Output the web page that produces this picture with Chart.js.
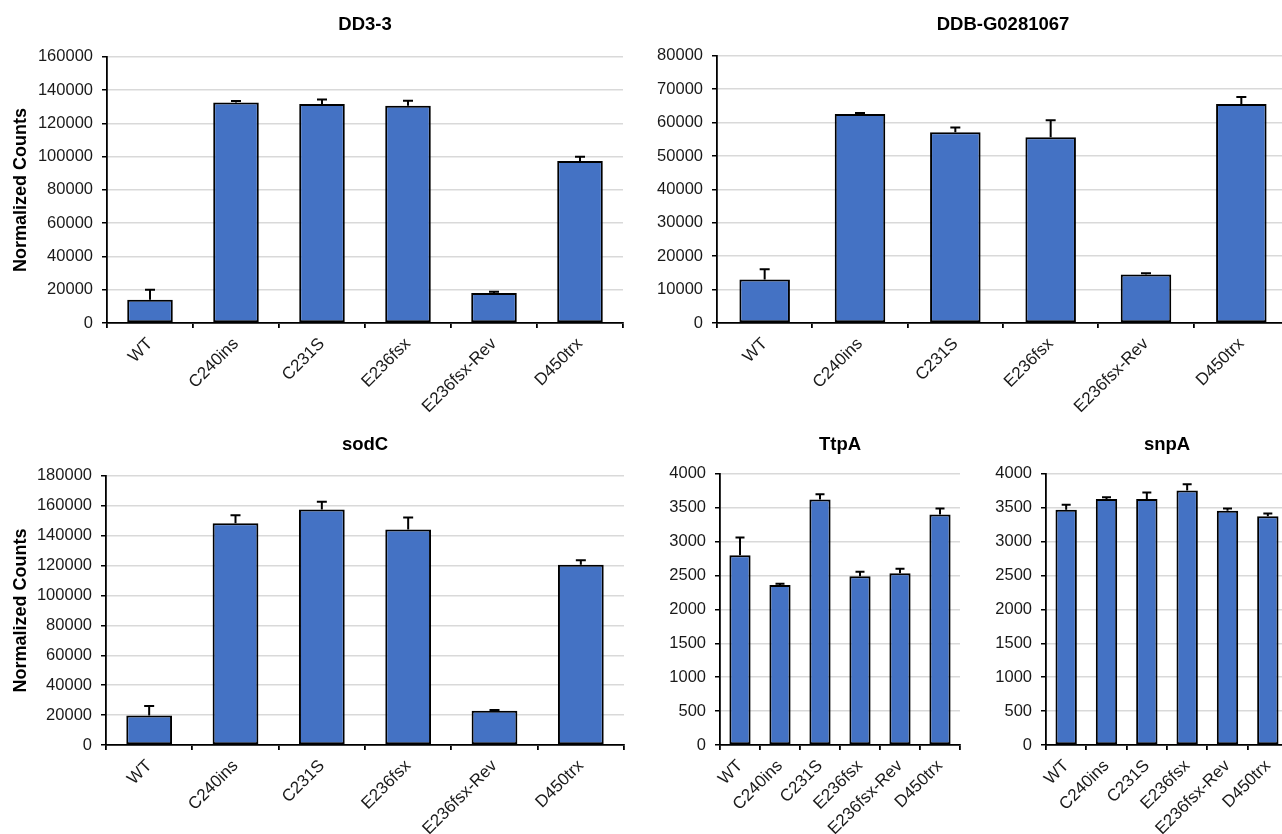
<!DOCTYPE html>
<html>
<head>
<meta charset="utf-8">
<title>Normalized Counts</title>
<script src="https://cdn.jsdelivr.net/npm/chart.js@4/dist/chart.umd.min.js"></script>
<style>
  html, body { margin: 0; padding: 0; background: #fff; overflow: hidden; }
  #wrap { position: relative; width: 1282px; height: 834px; overflow: hidden; }
  #wrap canvas { position: absolute; }
</style>
</head>
<body>
<div id="wrap">
  <canvas id="c1" width="640" height="420" style="left:0;top:0"></canvas>
  <canvas id="c2" width="652" height="420" style="left:640px;top:0"></canvas>
  <canvas id="c3" width="640" height="414" style="left:0;top:420px"></canvas>
  <canvas id="c4" width="330" height="414" style="left:640px;top:420px"></canvas>
  <canvas id="c5" width="322" height="414" style="left:970px;top:420px"></canvas>
</div>
<script>
// Strains shared by every panel
const strains = ['WT', 'C240ins', 'C231S', 'E236fsx', 'E236fsx-Rev', 'D450trx'];

// Mean normalized counts and upper error (SD) for each gene
const dd33Means   = [14000, 132600, 131600, 130600, 18000, 97400];
const dd33Err     = [6000, 800, 2800, 3000, 800, 2600];

const ddbMeans    = [13000, 62600, 57100, 55600, 14500, 65600];
const ddbErr      = [3100, 300, 1400, 5100, 400, 2100];

const sodCMeans   = [19800, 148300, 157400, 144100, 22900, 120500];
const sodCErr     = [6200, 5400, 5200, 8000, 500, 3100];

const ttpAMeans   = [2800, 2360, 3620, 2490, 2535, 3400];
const ttpAErr     = [260, 20, 80, 65, 65, 90];

const snpAMeans   = [3470, 3630, 3630, 3755, 3455, 3375];
const snpAErr     = [75, 25, 95, 90, 35, 40];

// Axis ranges (max, step)
const dd33Axis = [160000, 20000];
const ddbAxis  = [80000, 10000];
const sodCAxis = [180000, 20000];
const smallAxis = [4000, 500];

const FONT = 'Arial, "Liberation Sans", Helvetica, sans-serif';
const BAR_BLUE = '#4472C4';
const GRID_GREY = '#d9d9d9';

// Upward error bars with a cap, drawn from the bar's own scale
const errorBars = {
  id: 'errorBars',
  afterDatasetsDraw(chart, args, opts) {
    const errs = opts.values;
    if (!errs) return;
    const ctx = chart.ctx;
    const yScale = chart.scales.y;
    const meta = chart.getDatasetMeta(0);
    const values = chart.data.datasets[0].data;
    ctx.save();
    ctx.strokeStyle = '#000';
    ctx.lineWidth = 2;
    meta.data.forEach((bar, i) => {
      const x = bar.x;
      const yTop = yScale.getPixelForValue(values[i]);
      const yErr = yScale.getPixelForValue(values[i] + errs[i]);
      ctx.beginPath();
      ctx.moveTo(x, yTop);
      ctx.lineTo(x, yErr);
      ctx.moveTo(x - opts.cap, yErr);
      ctx.lineTo(x + opts.cap, yErr);
      ctx.stroke();
    });
    ctx.restore();
  }
};

function makeChart(id, cfg) {
  const yTitle = cfg.yTitle
    ? { display: true, text: cfg.yTitle, color: '#000',
        font: { family: FONT, size: 18, weight: 'bold' }, padding: { top: cfg.yTitlePad, bottom: 0 } }
    : { display: false };
  return new Chart(document.getElementById(id), {
    type: 'bar',
    data: {
      labels: strains,
      datasets: [{
        data: cfg.means,
        backgroundColor: BAR_BLUE,
        borderColor: '#000',
        borderWidth: 2,
        borderSkipped: false,
        categoryPercentage: 1,
        barPercentage: 0.53
      }]
    },
    options: {
      responsive: false,
      animation: false,
      layout: { padding: { left: 0, right: cfg.padRight, top: 0, bottom: 0 } },
      plugins: {
        legend: { display: false },
        tooltip: { enabled: false },
        title: {
          display: true,
          text: cfg.title,
          fullSize: false,
          color: '#000',
          font: { family: FONT, size: 18.5, weight: 'bold' },
          padding: { top: 13.5, bottom: cfg.titleGap - 1.5 }
        },
        errorBars: { values: cfg.err, cap: cfg.cap }
      },
      scales: {
        x: {
          grid: { display: true, drawOnChartArea: false, drawTicks: true, tickLength: 5,
                  color: '#000', lineWidth: 1.8, offset: true },
          border: { display: true, color: '#000', width: 1.8 },
          ticks: { autoSkip: false, maxRotation: 45, minRotation: 45, padding: 6,
                   color: '#1a1a1a', font: { family: FONT, size: 17 } },
          afterFit(scale) { scale.height = cfg.xHeight; }
        },
        y: {
          min: 0,
          max: cfg.axis[0],
          grid: { color: GRID_GREY, lineWidth: 1.5, tickLength: 5, tickColor: '#000' },
          border: { display: true, color: '#000', width: 1.8 },
          ticks: { stepSize: cfg.axis[1], padding: 9, color: '#1a1a1a',
                   font: { family: FONT, size: 16.5 },
                   callback: v => String(v) },
          title: yTitle,
          afterFit(scale) { scale.width = cfg.yWidth; }
        }
      }
    },
    plugins: [errorBars]
  });
}

makeChart('c1', { title: 'DD3-3', means: dd33Means, err: dd33Err, axis: dd33Axis,
  yTitle: 'Normalized Counts', yTitlePad: 10, yWidth: 107, padRight: 17,
  titleGap: 22.6, xHeight: 97, cap: 5 });

makeChart('c2', { title: 'DDB-G0281067', means: ddbMeans, err: ddbErr, axis: ddbAxis,
  yWidth: 77, padRight: 3, titleGap: 21.6, xHeight: 97, cap: 5 });

makeChart('c3', { title: 'sodC', means: sodCMeans, err: sodCErr, axis: sodCAxis,
  yTitle: 'Normalized Counts', yTitlePad: 10, yWidth: 106, padRight: 16,
  titleGap: 21.6, xHeight: 89, cap: 5 });

makeChart('c4', { title: 'TtpA', means: ttpAMeans, err: ttpAErr, axis: smallAxis,
  yWidth: 80, padRight: 10, titleGap: 19.6, xHeight: 89, cap: 4.5 });

makeChart('c5', { title: 'snpA', means: snpAMeans, err: snpAErr, axis: smallAxis,
  yWidth: 76, padRight: 4, titleGap: 19.6, xHeight: 89, cap: 4.5 });
</script>
</body>
</html>
